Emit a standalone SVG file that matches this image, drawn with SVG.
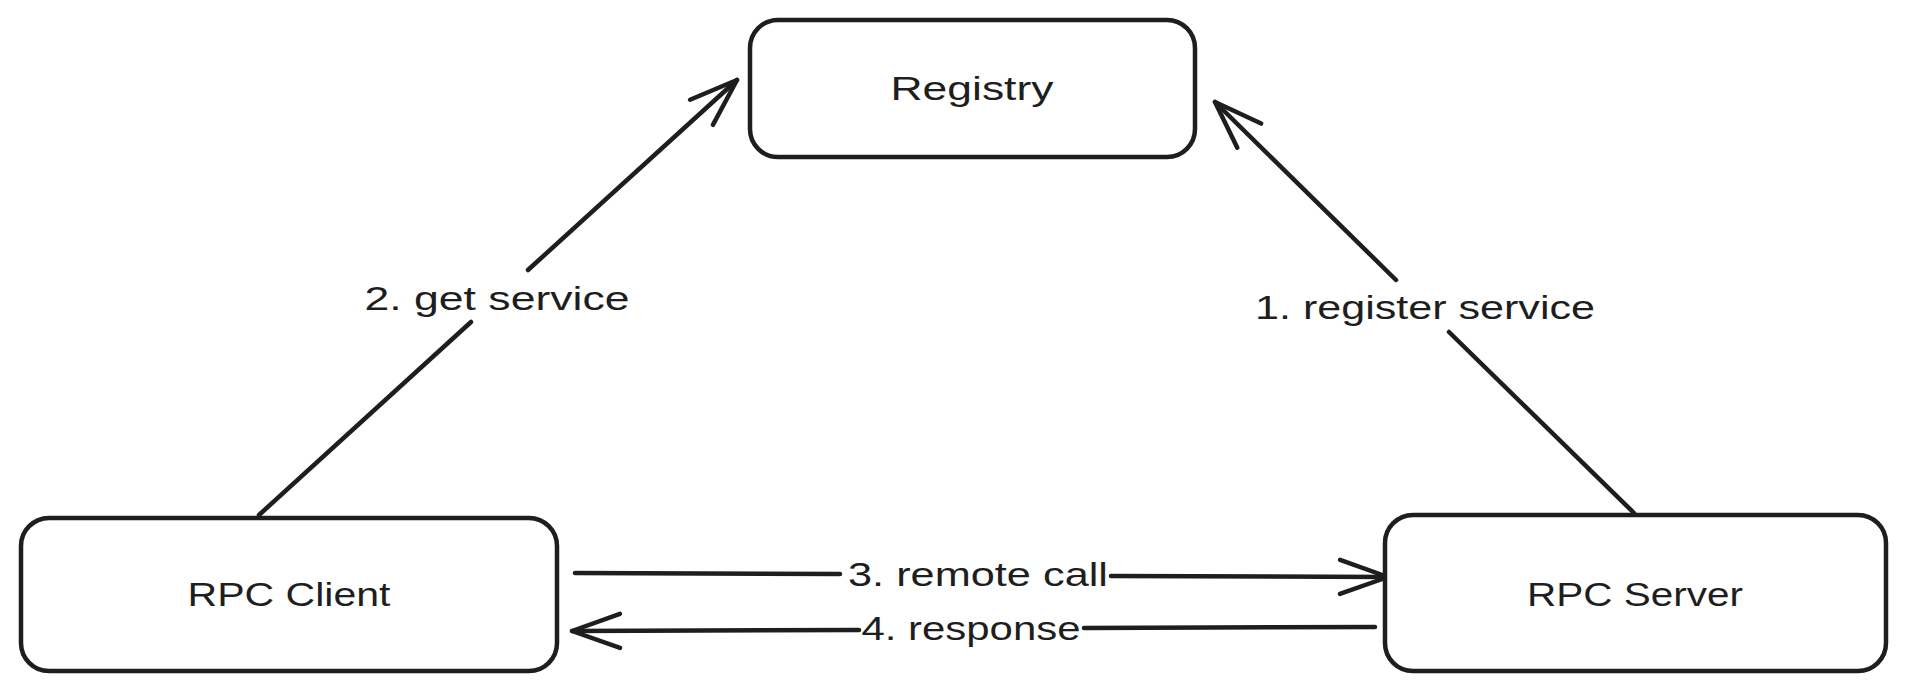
<svg xmlns="http://www.w3.org/2000/svg" width="1905" height="692" viewBox="0 0 1905 692">
  <style>
    .box { fill: #ffffff; stroke: #1e1e1e; stroke-width: 4.5; }
    .lbl { font-family: "Liberation Sans", "DejaVu Sans", sans-serif; font-size: 34px; fill: #1e1e1e; text-anchor: middle; }
    .edge { fill: none; stroke: #1e1e1e; stroke-width: 4.5; stroke-linecap: round; }
  </style>
  <defs>
    <marker id="arrow" markerUnits="userSpaceOnUse" markerWidth="80" markerHeight="80" refX="0" refY="0" orient="auto" overflow="visible" viewBox="-60 -30 80 60">
      <path d="M-48,-17 L0,0 L-48,17" fill="none" stroke="#1e1e1e" stroke-width="4.5" stroke-linecap="round" stroke-linejoin="round"/>
    </marker>
  </defs>
  <rect width="1905" height="692" fill="#ffffff"/>

  <g id="connectors">
    <g id="edge-get-service">
      <path class="edge" d="M259,515 L471,322 M528,270 L737,80" marker-end="url(#arrow)"/>
      <text class="lbl" x="497" y="310" textLength="265" lengthAdjust="spacingAndGlyphs">2. get service</text>
    </g>
    <g id="edge-register-service">
      <path class="edge" d="M1634,513 L1449,332 M1396,280 L1215,102" marker-end="url(#arrow)"/>
      <text class="lbl" x="1425" y="319" textLength="340" lengthAdjust="spacingAndGlyphs">1. register service</text>
    </g>
    <g id="edge-remote-call">
      <path class="edge" d="M575,573 L840,574 M1111,576 L1388,577" marker-end="url(#arrow)"/>
      <text class="lbl" x="978" y="586" textLength="260" lengthAdjust="spacingAndGlyphs">3. remote call</text>
    </g>
    <g id="edge-response">
      <path class="edge" d="M1375,627 L1084,628 M859,630 L572,631" marker-end="url(#arrow)"/>
      <text class="lbl" x="971" y="640" textLength="219" lengthAdjust="spacingAndGlyphs">4. response</text>
    </g>
  </g>

  <g id="node-registry">
    <rect class="box" x="750" y="20" width="445" height="137" rx="28" ry="28"/>
    <text class="lbl" x="972" y="100" textLength="163" lengthAdjust="spacingAndGlyphs">Registry</text>
  </g>
  <g id="node-rpc-client">
    <rect class="box" x="21" y="518" width="536" height="153" rx="28" ry="28"/>
    <text class="lbl" x="289" y="606" textLength="203" lengthAdjust="spacingAndGlyphs">RPC Client</text>
  </g>
  <g id="node-rpc-server">
    <rect class="box" x="1385" y="515" width="501" height="156" rx="28" ry="28"/>
    <text class="lbl" x="1635" y="606" textLength="216" lengthAdjust="spacingAndGlyphs">RPC Server</text>
  </g>
</svg>
